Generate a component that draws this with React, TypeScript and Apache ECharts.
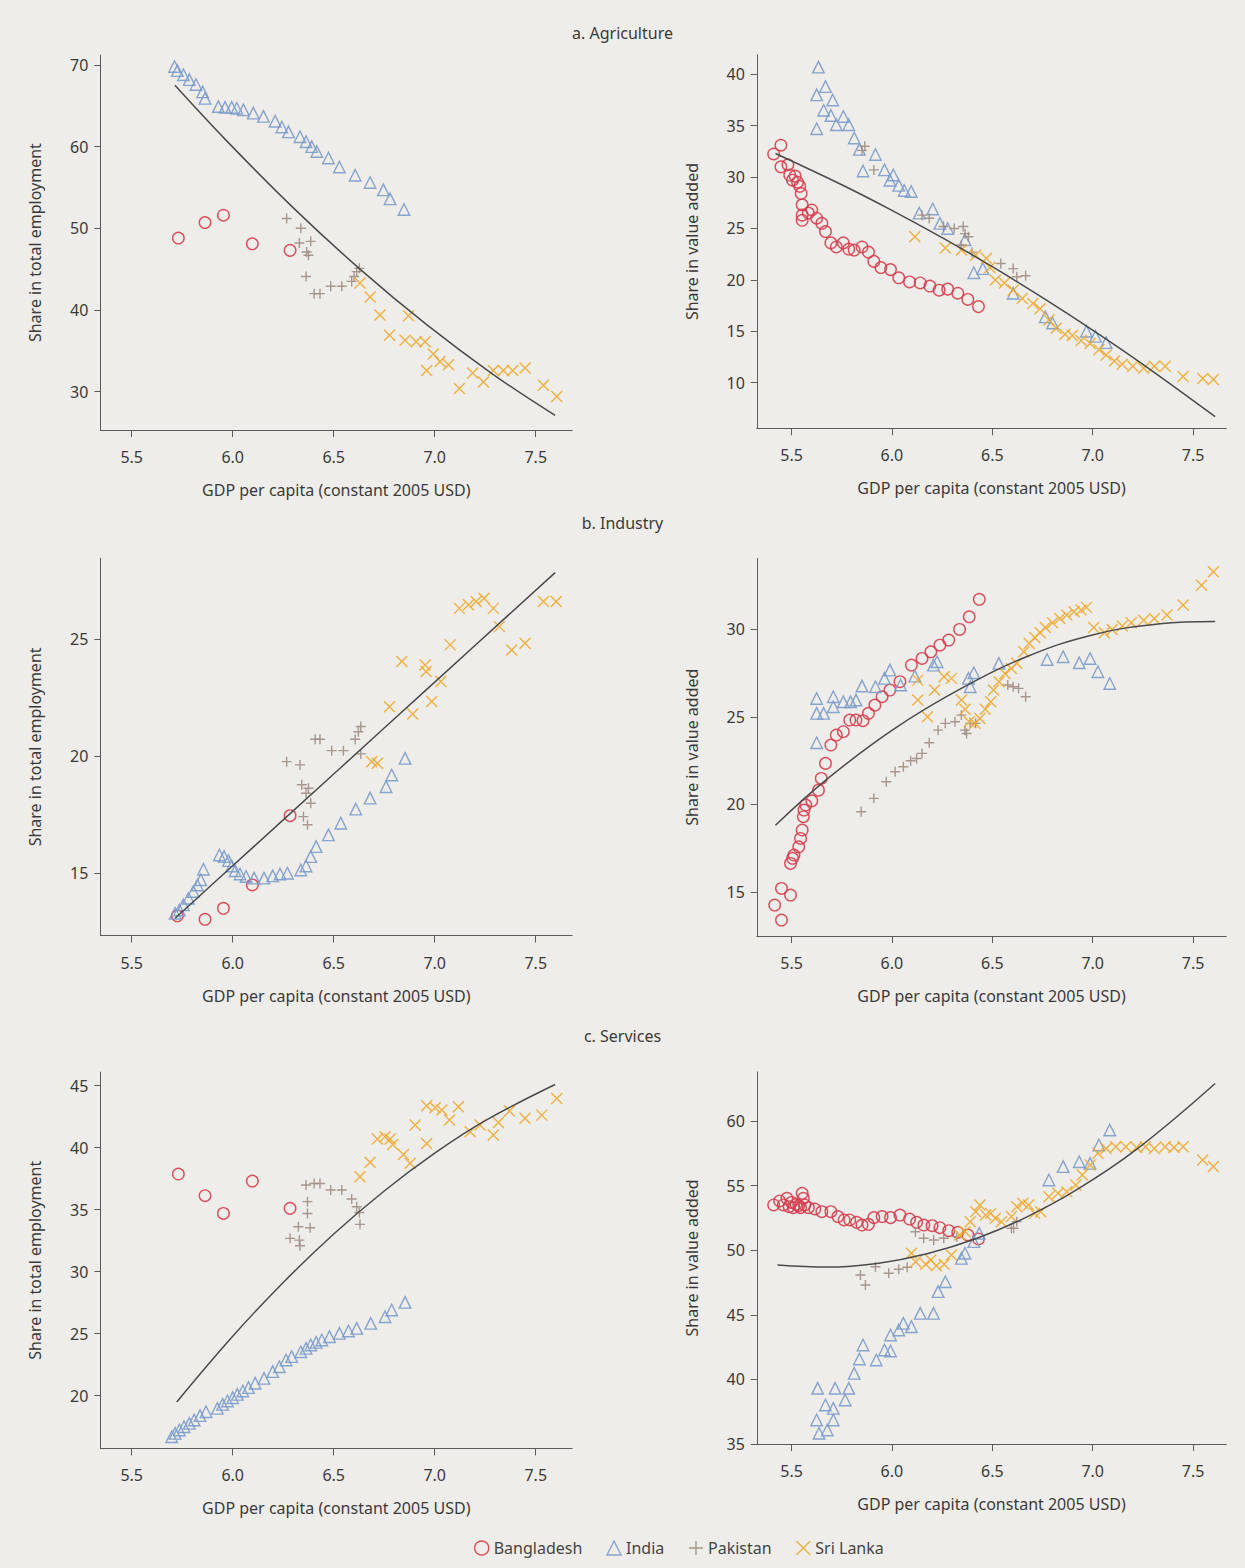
import React, { useEffect, useRef } from "react";
import * as echarts from "echarts";

// ---------- ticks ----------
const X_TICKS = [5.5, 6.0, 6.5, 7.0, 7.5];
const Y_TICKS_AGR_EMP = [30, 40, 50, 60, 70];
const Y_TICKS_AGR_VA = [10, 15, 20, 25, 30, 35, 40];
const Y_TICKS_IND_EMP = [15, 20, 25];
const Y_TICKS_IND_VA = [15, 20, 25, 30];
const Y_TICKS_SER_EMP = [20, 25, 30, 35, 40, 45];
const Y_TICKS_SER_VA = [35, 40, 45, 50, 55, 60];

const COUNTRIES = ["Bangladesh", "India", "Pakistan", "Sri Lanka"];
const SECTION_TITLES = ["a. Agriculture", "b. Industry", "c. Services"];
const X_NAME = "GDP per capita (constant 2005 USD)";
const Y_NAME_EMP = "Share in total employment";
const Y_NAME_VA = "Share in value added";

// ---------- a. Agriculture, employment ----------
const agrEmpBD = [[5.731, 48.8], [5.863, 50.7], [5.954, 51.6], [6.097, 48.1], [6.284, 47.3]];
const agrEmpIN = [[5.712, 69.8], [5.726, 69.3], [5.756, 68.8], [5.785, 68.2], [5.818, 67.6], [5.851, 66.7], [5.863, 65.9], [5.929, 64.9], [5.962, 64.8], [5.995, 64.8], [6.02, 64.7], [6.053, 64.5], [6.102, 64.1], [6.152, 63.7], [6.21, 63.1], [6.243, 62.4], [6.276, 61.8], [6.333, 61.2], [6.363, 60.6], [6.391, 60.0], [6.416, 59.4], [6.474, 58.6], [6.528, 57.5], [6.606, 56.5], [6.68, 55.6], [6.746, 54.7], [6.779, 53.6], [6.848, 52.3]];
const agrEmpPK = [[6.267, 51.2], [6.337, 50.0], [6.33, 48.2], [6.386, 48.4], [6.366, 47.1], [6.375, 46.7], [6.363, 44.1], [6.403, 42.0], [6.432, 42.0], [6.485, 42.9], [6.54, 42.9], [6.589, 43.5], [6.601, 44.1], [6.614, 44.7], [6.627, 45.1]];
const agrEmpSL = [[6.63, 43.3], [6.68, 41.6], [6.729, 39.4], [6.776, 36.9], [6.853, 36.3], [6.87, 39.3], [6.908, 36.1], [6.952, 36.1], [6.993, 34.6], [7.026, 33.7], [7.068, 33.3], [6.96, 32.6], [7.122, 30.4], [7.188, 32.3], [7.241, 31.2], [7.29, 32.6], [7.34, 32.6], [7.386, 32.6], [7.447, 32.9], [7.538, 30.8], [7.604, 29.4]];
const agrEmpFit = [[5.714, 67.5], [5.97, 60.7], [6.3, 52.5], [6.63, 45.0], [6.96, 38.2], [7.29, 32.1], [7.596, 27.1]];

// ---------- a. Agriculture, value added ----------
const agrVaBD = [[5.411, 32.25], [5.447, 33.1], [5.447, 31.0], [5.482, 31.2], [5.491, 30.2], [5.505, 29.7], [5.518, 30.1], [5.53, 29.5], [5.541, 29.1], [5.548, 28.4], [5.553, 27.3], [5.553, 26.3], [5.553, 25.8], [5.584, 26.5], [5.601, 26.8], [5.625, 26.0], [5.651, 25.5], [5.669, 24.7], [5.696, 23.6], [5.723, 23.2], [5.758, 23.6], [5.785, 23.0], [5.812, 22.9], [5.851, 23.2], [5.883, 22.7], [5.91, 21.8], [5.945, 21.2], [5.993, 21.0], [6.034, 20.2], [6.088, 19.8], [6.141, 19.7], [6.189, 19.4], [6.235, 19.0], [6.278, 19.1], [6.328, 18.7], [6.378, 18.1], [6.431, 17.4]];
const agrVaIN = [[5.634, 40.7], [5.625, 38.0], [5.625, 34.7], [5.669, 38.8], [5.66, 36.5], [5.705, 37.5], [5.696, 36.0], [5.723, 35.1], [5.758, 35.9], [5.785, 35.1], [5.812, 33.8], [5.838, 32.7], [5.856, 30.6], [5.918, 32.2], [5.963, 30.7], [5.99, 29.7], [6.007, 30.2], [6.034, 29.2], [6.061, 28.7], [6.096, 28.6], [6.136, 26.5], [6.203, 26.9], [6.239, 25.5], [6.278, 25.0], [6.364, 23.9], [6.408, 20.7], [6.453, 21.1], [6.604, 18.7], [6.764, 16.4], [6.8, 15.8], [6.969, 15.0], [7.014, 14.5], [7.067, 13.9]];
const agrVaPK = [[5.851, 32.6], [5.865, 33.0], [5.91, 30.7], [6.15, 26.3], [6.186, 26.0], [6.257, 25.2], [6.31, 25.0], [6.355, 25.2], [6.364, 24.5], [6.381, 24.2], [6.346, 23.4], [6.399, 22.7], [6.542, 21.6], [6.604, 21.1], [6.622, 20.3], [6.666, 20.4]];
const agrVaSL = [[6.114, 24.2], [6.266, 23.1], [6.346, 22.9], [6.417, 22.4], [6.47, 22.1], [6.488, 21.2], [6.515, 20.0], [6.56, 19.7], [6.604, 19.0], [6.649, 18.2], [6.702, 17.7], [6.738, 17.2], [6.782, 16.1], [6.818, 15.3], [6.862, 14.7], [6.898, 14.6], [6.942, 14.1], [6.987, 13.8], [7.031, 13.2], [7.067, 12.7], [7.108, 12.1], [7.147, 11.8], [7.2, 11.6], [7.254, 11.4], [7.307, 11.6], [7.361, 11.6], [7.45, 10.6], [7.548, 10.4], [7.601, 10.3]];
const agrVaFit = [[5.42, 32.3], [5.75, 29.26], [6.0, 26.77], [6.25, 24.11], [6.5, 21.28], [6.75, 18.28], [7.0, 15.12], [7.25, 11.79], [7.61, 6.7]];

// ---------- b. Industry, employment ----------
const indEmpBD = [[5.726, 13.18], [5.863, 13.03], [5.954, 13.5], [6.097, 14.5], [6.284, 17.46]];
const indEmpIN = [[5.715, 13.29], [5.736, 13.43], [5.756, 13.65], [5.781, 13.93], [5.805, 14.22], [5.825, 14.5], [5.842, 14.72], [5.855, 15.17], [5.934, 15.78], [5.957, 15.71], [5.979, 15.54], [5.995, 15.31], [6.012, 15.11], [6.036, 14.97], [6.066, 14.86], [6.106, 14.79], [6.155, 14.79], [6.198, 14.89], [6.234, 14.97], [6.271, 15.0], [6.337, 15.14], [6.363, 15.31], [6.386, 15.71], [6.413, 16.14], [6.474, 16.64], [6.535, 17.14], [6.609, 17.74], [6.68, 18.21], [6.759, 18.7], [6.787, 19.2], [6.853, 19.91]];
const indEmpPK = [[6.267, 19.77], [6.333, 19.63], [6.408, 20.73], [6.432, 20.73], [6.49, 20.24], [6.548, 20.24], [6.606, 20.73], [6.622, 21.05], [6.634, 21.27], [6.634, 20.1], [6.342, 18.78], [6.375, 18.63], [6.363, 18.42], [6.386, 17.99], [6.35, 17.42], [6.37, 17.07]];
const indEmpSL = [[6.688, 19.77], [6.716, 19.7], [6.776, 22.12], [6.837, 24.05], [6.891, 21.81], [6.952, 23.9], [6.957, 23.62], [6.985, 22.34], [7.03, 23.19], [7.076, 24.76], [7.122, 26.32], [7.167, 26.47], [7.205, 26.61], [7.244, 26.75], [7.29, 26.32], [7.32, 25.54], [7.381, 24.54], [7.447, 24.83], [7.538, 26.61], [7.601, 26.61]];
const indEmpFit = [[5.715, 13.08], [6.0, 15.32], [6.5, 19.24], [7.0, 23.17], [7.596, 27.85]];

// ---------- b. Industry, value added ----------
const indVaBD = [[5.416, 14.24], [5.45, 15.19], [5.45, 13.38], [5.495, 14.81], [5.495, 16.62], [5.505, 16.91], [5.512, 17.1], [5.536, 17.57], [5.545, 18.05], [5.553, 18.53], [5.559, 19.29], [5.562, 19.67], [5.571, 19.96], [5.601, 20.2], [5.634, 20.81], [5.648, 21.48], [5.669, 22.34], [5.696, 23.39], [5.723, 23.96], [5.758, 24.15], [5.79, 24.82], [5.821, 24.82], [5.856, 24.78], [5.883, 25.2], [5.915, 25.67], [5.951, 26.15], [5.99, 26.53], [6.04, 27.01], [6.097, 27.96], [6.15, 28.34], [6.194, 28.72], [6.239, 29.1], [6.283, 29.39], [6.337, 30.0], [6.385, 30.72], [6.435, 31.72]];
const indVaIN = [[5.625, 26.05], [5.625, 25.2], [5.66, 25.2], [5.708, 26.15], [5.708, 25.58], [5.758, 25.86], [5.794, 25.86], [5.821, 25.96], [5.851, 26.76], [5.918, 26.72], [5.963, 27.2], [5.99, 27.67], [6.043, 26.82], [6.114, 27.33], [6.207, 27.96], [6.225, 28.15], [6.381, 27.2], [6.39, 26.72], [6.408, 27.52], [6.533, 28.06], [6.773, 28.28], [6.853, 28.44], [6.933, 28.09], [6.987, 28.34], [7.026, 27.58], [7.085, 26.91], [5.625, 23.52]];
const indVaPK = [[5.847, 19.57], [5.91, 20.34], [5.972, 21.29], [6.016, 21.86], [6.057, 22.15], [6.093, 22.49], [6.123, 22.62], [6.15, 22.91], [6.186, 23.52], [6.23, 24.24], [6.266, 24.63], [6.314, 24.72], [6.346, 25.1], [6.364, 24.24], [6.372, 24.05], [6.39, 24.63], [6.417, 24.63], [6.577, 26.82], [6.604, 26.72], [6.631, 26.63], [6.666, 26.15]];
const indVaSL = [[6.129, 27.1], [6.129, 25.96], [6.177, 25.01], [6.212, 26.53], [6.26, 27.29], [6.296, 27.2], [6.346, 25.96], [6.364, 25.43], [6.385, 24.72], [6.413, 24.63], [6.438, 24.91], [6.465, 25.43], [6.492, 25.86], [6.506, 26.53], [6.533, 27.01], [6.563, 27.48], [6.595, 27.77], [6.622, 28.06], [6.657, 28.72], [6.684, 29.2], [6.711, 29.54], [6.738, 29.81], [6.764, 30.11], [6.8, 30.38], [6.836, 30.63], [6.871, 30.82], [6.907, 31.01], [6.942, 31.11], [6.969, 31.26], [7.005, 30.11], [7.058, 29.81], [7.097, 30.0], [7.147, 30.19], [7.192, 30.38], [7.254, 30.53], [7.307, 30.63], [7.37, 30.82], [7.45, 31.39], [7.542, 32.53], [7.601, 33.3]];
const indVaFit = [[5.42, 18.8], [5.678, 21.45], [6.009, 24.3], [6.341, 26.6], [6.673, 28.45], [7.004, 29.7], [7.336, 30.32], [7.61, 30.45]];

// ---------- c. Services, employment ----------
const serEmpBD = [[5.731, 37.88], [5.863, 36.13], [5.954, 34.7], [6.097, 37.31], [6.284, 35.11]];
const serEmpIN = [[5.698, 16.69], [5.715, 16.96], [5.736, 17.23], [5.759, 17.5], [5.785, 17.77], [5.809, 18.04], [5.838, 18.39], [5.868, 18.71], [5.924, 18.98], [5.95, 19.3], [5.974, 19.57], [6.0, 19.84], [6.023, 20.11], [6.05, 20.38], [6.078, 20.65], [6.111, 21.01], [6.155, 21.4], [6.198, 21.94], [6.231, 22.34], [6.264, 22.88], [6.292, 23.15], [6.337, 23.55], [6.363, 23.82], [6.386, 24.09], [6.413, 24.3], [6.441, 24.49], [6.479, 24.76], [6.528, 25.03], [6.573, 25.22], [6.614, 25.43], [6.683, 25.83], [6.754, 26.37], [6.787, 26.91], [6.853, 27.53]];
const serEmpPK = [[6.363, 36.99], [6.403, 37.12], [6.432, 37.12], [6.485, 36.59], [6.54, 36.59], [6.589, 35.86], [6.614, 35.24], [6.627, 34.78], [6.63, 33.82], [6.37, 35.65], [6.37, 34.7], [6.325, 33.63], [6.383, 33.55], [6.284, 32.69], [6.33, 32.55], [6.333, 32.1]];
const serEmpSL = [[6.63, 37.66], [6.68, 38.82], [6.716, 40.7], [6.754, 40.89], [6.779, 40.7], [6.792, 40.27], [6.845, 39.46], [6.878, 38.74], [6.903, 41.83], [6.96, 40.35], [6.96, 43.39], [7.002, 43.23], [7.035, 43.04], [7.073, 42.23], [7.117, 43.31], [7.175, 41.29], [7.224, 41.83], [7.29, 41.02], [7.315, 42.04], [7.37, 42.96], [7.447, 42.37], [7.53, 42.63], [7.604, 43.98]];
const serEmpFit = [[5.723, 19.5], [6.0, 24.8], [6.25, 29.13], [6.5, 33.04], [6.75, 36.51], [7.0, 39.56], [7.25, 42.18], [7.596, 45.1]];

// ---------- c. Services, value added ----------
const serVaBD = [[5.411, 53.5], [5.441, 53.81], [5.459, 53.5], [5.477, 54.01], [5.488, 53.37], [5.5, 53.7], [5.509, 53.29], [5.523, 53.55], [5.536, 53.45], [5.545, 53.29], [5.553, 54.4], [5.559, 54.01], [5.566, 53.5], [5.584, 53.29], [5.616, 53.19], [5.651, 52.98], [5.696, 52.98], [5.731, 52.6], [5.762, 52.34], [5.79, 52.34], [5.824, 52.16], [5.851, 51.95], [5.883, 52.0], [5.91, 52.52], [5.951, 52.6], [5.993, 52.52], [6.04, 52.72], [6.088, 52.41], [6.123, 52.16], [6.159, 51.95], [6.2, 51.9], [6.239, 51.74], [6.283, 51.51], [6.328, 51.38], [6.378, 51.18], [6.431, 50.87]];
const serVaIN = [[5.63, 39.31], [5.625, 36.86], [5.637, 35.83], [5.669, 38.02], [5.678, 36.08], [5.708, 37.76], [5.708, 36.86], [5.717, 39.31], [5.767, 38.41], [5.785, 39.31], [5.812, 40.47], [5.838, 41.58], [5.856, 42.66], [5.922, 41.5], [5.963, 42.28], [5.993, 42.2], [5.993, 43.44], [6.034, 43.82], [6.057, 44.34], [6.097, 44.08], [6.141, 45.11], [6.207, 45.11], [6.23, 46.79], [6.266, 47.56], [6.346, 49.37], [6.364, 49.76], [6.408, 50.66], [6.435, 51.31], [6.782, 55.43], [6.853, 56.47], [6.933, 56.85], [6.987, 56.72], [7.031, 58.14], [7.085, 59.3]];
const serVaPK = [[5.843, 48.08], [5.868, 47.31], [5.918, 48.72], [5.984, 48.21], [6.034, 48.52], [6.076, 48.68], [6.117, 51.43], [6.158, 50.92], [6.208, 50.79], [6.258, 50.92], [6.324, 51.05], [6.595, 51.69], [6.606, 51.7], [6.622, 52.21]];
const serVaSL = [[6.097, 49.76], [6.118, 49.11], [6.168, 48.91], [6.194, 49.24], [6.221, 48.8], [6.26, 48.91], [6.296, 49.63], [6.337, 51.18], [6.364, 51.43], [6.39, 52.21], [6.417, 52.98], [6.438, 53.5], [6.467, 52.72], [6.492, 52.85], [6.515, 52.47], [6.545, 52.21], [6.595, 52.6], [6.622, 53.37], [6.652, 53.63], [6.681, 53.5], [6.711, 52.85], [6.741, 52.98], [6.782, 54.14], [6.827, 54.4], [6.871, 54.53], [6.916, 55.05], [6.948, 55.82], [6.987, 56.59], [7.026, 57.5], [7.067, 57.88], [7.115, 58.01], [7.165, 58.01], [7.218, 57.94], [7.263, 58.01], [7.307, 57.88], [7.361, 58.01], [7.405, 57.94], [7.45, 58.01], [7.548, 56.98], [7.601, 56.47]];
const serVaFit = [[5.43, 48.85], [5.678, 48.69], [5.926, 48.97], [6.175, 49.72], [6.424, 50.92], [6.673, 52.58], [6.921, 54.68], [7.22, 57.82], [7.61, 62.9]];

// ---------- styles ----------
const FONT = "'Noto Sans', 'Open Sans', sans-serif";
const BG = "#efede9";
const TEXT = "#3a3a3a";
const AXIS = "#5a5a5a";
const COLORS = ["#d63c4e", "#7b9bcc", "#9f8d84", "#f0a82e"];
const PLUS = "path://M5 0 L5 10 M0 5 L10 5";
const CROSS = "path://M0 0 L10 10 M10 0 L0 10";
const SYMBOLS = ["circle", "triangle", PLUS, CROSS];
const SIZES = [11.5, 11.5, 10, 11];

const PANELS = [
  { grid: { left: 100.4, top: 55.1, width: 471.7, height: 375 }, x: [5.345, 7.68], y: [25.3, 71.2], yTicks: Y_TICKS_AGR_EMP, yName: Y_NAME_EMP, series: [agrEmpBD, agrEmpIN, agrEmpPK, agrEmpSL], fit: agrEmpFit },
  { grid: { left: 756.8, top: 54.8, width: 469.4, height: 373.5 }, x: [5.327, 7.665], y: [5.56, 41.9], yTicks: Y_TICKS_AGR_VA, yName: Y_NAME_VA, series: [agrVaBD, agrVaIN, agrVaPK, agrVaSL], fit: agrVaFit },
  { grid: { left: 100.4, top: 558.3, width: 471.7, height: 377.2 }, x: [5.345, 7.68], y: [12.34, 28.46], yTicks: Y_TICKS_IND_EMP, yName: Y_NAME_EMP, series: [indEmpBD, indEmpIN, indEmpPK, indEmpSL], fit: indEmpFit },
  { grid: { left: 756.8, top: 558.4, width: 469.4, height: 377.6 }, x: [5.327, 7.665], y: [12.47, 34.06], yTicks: Y_TICKS_IND_VA, yName: Y_NAME_VA, series: [indVaBD, indVaIN, indVaPK, indVaSL], fit: indVaFit },
  { grid: { left: 100.4, top: 1072.1, width: 471.7, height: 376.3 }, x: [5.345, 7.68], y: [15.75, 46.1], yTicks: Y_TICKS_SER_EMP, yName: Y_NAME_EMP, series: [serEmpBD, serEmpIN, serEmpPK, serEmpSL], fit: serEmpFit },
  { grid: { left: 756.8, top: 1071.9, width: 469.4, height: 372.1 }, x: [5.327, 7.665], y: [35, 63.8], yTicks: Y_TICKS_SER_VA, yName: Y_NAME_VA, series: [serVaBD, serVaIN, serVaPK, serVaSL], fit: serVaFit },
];

function buildOption() {
  const grids: any[] = [];
  const xAxes: any[] = [];
  const yAxes: any[] = [];
  const series: any[] = [];
  PANELS.forEach((p, i) => {
    grids.push({ ...p.grid, containLabel: false });
    xAxes.push({
      type: "value", gridIndex: i, min: p.x[0], max: p.x[1],
      axisLine: { show: true, onZero: false, lineStyle: { color: AXIS, width: 1 } },
      axisTick: { show: true, length: 7, customValues: X_TICKS, lineStyle: { color: AXIS } },
      axisLabel: { customValues: X_TICKS, margin: 19, fontSize: 16, color: TEXT, fontFamily: FONT, formatter: (v: number) => v.toFixed(1) },
      splitLine: { show: false },
      name: X_NAME, nameLocation: "middle", nameGap: 52,
      nameTextStyle: { fontSize: 16, color: TEXT, fontFamily: FONT },
    });
    yAxes.push({
      type: "value", gridIndex: i, min: p.y[0], max: p.y[1],
      axisLine: { show: true, onZero: false, lineStyle: { color: AXIS, width: 1 } },
      axisTick: { show: true, length: 6, customValues: p.yTicks, lineStyle: { color: AXIS } },
      axisLabel: { customValues: p.yTicks, margin: 12, fontSize: 16, color: TEXT, fontFamily: FONT },
      splitLine: { show: false },
      name: p.yName, nameLocation: "middle", nameGap: 57, nameRotate: 90,
      nameTextStyle: { fontSize: 16, color: TEXT, fontFamily: FONT },
    });
    p.series.forEach((d, k) => {
      series.push({
        type: "scatter", name: COUNTRIES[k], xAxisIndex: i, yAxisIndex: i, data: d,
        symbol: SYMBOLS[k], symbolSize: SIZES[k],
        itemStyle: { color: "rgba(0,0,0,0)", borderColor: COLORS[k], borderWidth: 1.4, opacity: 0.9 },
        emphasis: { disabled: true }, silent: true,
      });
    });
    series.push({
      type: "line", name: "fit", xAxisIndex: i, yAxisIndex: i, data: p.fit, smooth: 0.4,
      showSymbol: false, symbol: "none", lineStyle: { color: "#4a4a4a", width: 1.5 }, silent: true, z: 3,
    });
  });
  return {
    animation: false,
    backgroundColor: BG,
    textStyle: { fontFamily: FONT },
    title: SECTION_TITLES.map((t, i) => ({
      text: t, left: "center", top: [20, 510, 1023][i],
      textStyle: { fontSize: 16, fontWeight: "normal", color: TEXT, fontFamily: FONT },
    })),
    legend: {
      left: 469, top: 1535, itemWidth: 14, itemHeight: 14, itemGap: 24, selectedMode: false,
      textStyle: { fontSize: 16, color: "#444", fontFamily: FONT },
      data: COUNTRIES.map((c, k) => ({
        name: c, icon: SYMBOLS[k],
        itemStyle: { color: "rgba(0,0,0,0)", borderColor: COLORS[k], borderWidth: 1.4 },
      })),
    },
    grid: grids, xAxis: xAxes, yAxis: yAxes, series,
  };
}

export default function App() {
  const ref = useRef<HTMLDivElement>(null);
  useEffect(() => {
    document.body.style.margin = "0";
    document.body.style.background = BG;
    const chart = echarts.init(ref.current!, undefined, { renderer: "svg" });
    chart.setOption(buildOption() as any);
    return () => chart.dispose();
  }, []);
  return <div ref={ref} style={{ width: 1245, height: 1568 }} />;
}
